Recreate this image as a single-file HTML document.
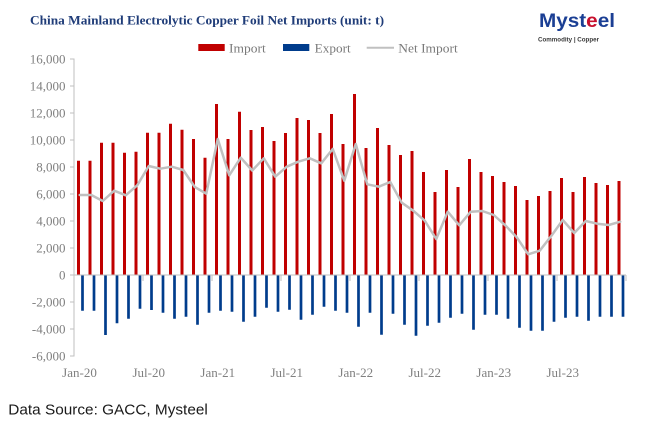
<!DOCTYPE html>
<html>
<head>
<meta charset="utf-8">
<style>
html,body{margin:0;padding:0;background:#fff;}
svg{display:block;}
</style>
</head>
<body>
<svg width="645" height="425" viewBox="0 0 645 425" xmlns="http://www.w3.org/2000/svg">
<rect width="645" height="425" fill="#fff"/>

<!-- Title -->
<text x="30" y="24.5" font-family="Liberation Serif, serif" font-weight="bold" font-size="13" fill="#1f3c78" textLength="354" lengthAdjust="spacingAndGlyphs">China Mainland Electrolytic Copper Foil Net Imports (unit: t)</text>

<!-- Logo -->
<text x="539" y="27" font-family="Liberation Sans, sans-serif" font-weight="bold" font-size="19" fill="#1b3f94" textLength="76" lengthAdjust="spacingAndGlyphs">Myst<tspan fill="#c8102e">e</tspan>el</text>
<text x="538" y="41.5" font-family="Liberation Sans, sans-serif" font-weight="bold" font-size="6.5" fill="#3a3a3a" textLength="61" lengthAdjust="spacingAndGlyphs">Commodity | Copper</text>

<!-- Legend -->
<rect x="198.3" y="44" width="26.4" height="7" fill="#c00000"/>
<text x="229" y="52.3" font-family="Liberation Serif, serif" font-size="13" fill="#7a7a7a" textLength="36.7" lengthAdjust="spacingAndGlyphs">Import</text>
<rect x="283" y="44" width="26.3" height="7" fill="#003c8c"/>
<text x="314.7" y="52.3" font-family="Liberation Serif, serif" font-size="13" fill="#7a7a7a" textLength="36" lengthAdjust="spacingAndGlyphs">Export</text>
<line x1="366.7" y1="47.7" x2="394" y2="47.7" stroke="#c0c0c0" stroke-width="2"/>
<text x="398.3" y="52.3" font-family="Liberation Serif, serif" font-size="13" fill="#7a7a7a" textLength="59.4" lengthAdjust="spacingAndGlyphs">Net Import</text>

<!-- Y axis labels -->
<g font-family="Liberation Serif, serif" font-size="13" fill="#808080" text-anchor="end">
<text x="65.5" y="63.5">16,000</text>
<text x="65.5" y="90.5">14,000</text>
<text x="65.5" y="117.5">12,000</text>
<text x="65.5" y="144.5">10,000</text>
<text x="65.5" y="171.5">8,000</text>
<text x="65.5" y="198.5">6,000</text>
<text x="65.5" y="225.5">4,000</text>
<text x="65.5" y="252.5">2,000</text>
<text x="65.5" y="279.5">0</text>
<text x="65.5" y="306.5">-2,000</text>
<text x="65.5" y="333.5">-4,000</text>
<text x="65.5" y="360.5">-6,000</text>
</g>

<!-- Import bars -->
<path fill="none" stroke="#c00000" stroke-width="3" d="
M78.5 275V160.7M90 275V160.7M101.5 275V142.7M113 275V142.7M124.5 275V152.7M136 275V151.7
M147.5 275V132.7M159 275V132.7M170.5 275V123.7M182 275V129.7M193.5 275V139M205 275V157.7
M216.5 275V104M228 275V139M239.5 275V111.7M251 275V130M262.5 275V127M274 275V141
M285.5 275V133M297 275V118M308.5 275V120M320 275V133M331.5 275V114M343 275V144
M354.5 275V94M366 275V148M377.5 275V128M389 275V145M400.5 275V155M412 275V151
M423.5 275V172M435 275V192M446.5 275V170M458 275V187M469.5 275V159M481 275V172
M492.5 275V176M504 275V182M515.5 275V186M527 275V200M538.5 275V196M550 275V191
M561.5 275V178M573 275V192M584.5 275V177M596 275V183M607.5 275V185M619 275V181"/>

<!-- Export bars -->
<path fill="none" stroke="#003c8c" stroke-width="2.7" d="
M82.5 275V310.7M94 275V310.7M105.5 275V335M117 275V323.3M128.5 275V318.7M140 275V308.7
M151.5 275V310M163 275V312.7M174.5 275V318.7M186 275V316.7M197.5 275V324.7M209 275V312.7
M220.5 275V310.7M232 275V311.7M243.5 275V321.7M255 275V316.7M266.5 275V307.7M278 275V311.7
M289.5 275V309.7M301 275V319.7M312.5 275V314.7M324 275V306.7M335.5 275V310.7M347 275V312.7
M358.5 275V326.7M370 275V312.7M381.5 275V334.7M393 275V313.7M404.5 275V324.7M416 275V335.7
M427.5 275V325.7M439 275V322.7M450.5 275V317.7M462 275V313.7M473.5 275V329.7M485 275V314.7
M496.5 275V314.7M508 275V318.7M519.5 275V327.7M531 275V330.7M542.5 275V330.7M554 275V321.7
M565.5 275V317.7M577 275V316.7M588.5 275V320.7M600 275V316.7M611.5 275V316.7M623 275V316.7"/>

<!-- Axes -->
<g stroke="#bfbfbf" stroke-width="1" fill="none">
<line x1="74" y1="58.5" x2="74" y2="356.5"/>
<line x1="74" y1="275" x2="626" y2="275"/>
<path d="M70 59H74M70 86H74M70 113H74M70 140H74M70 167H74M70 194H74M70 221H74M70 248H74M70 275H74M70 302H74M70 329H74M70 356H74"/>
<path d="M143 275V281M212 275V281M281 275V281M350 275V281M419 275V281M488 275V281M557 275V281M626 275V281"/>
</g>

<!-- Net import line -->
<polyline fill="none" stroke="#c0c0c0" stroke-width="2.5" stroke-linejoin="round" stroke-linecap="round" points="
79.75,195 91.25,195 102.75,201 114.25,190.7 125.75,195.3 137.25,185.3 148.75,166 160.25,168.7 171.75,166.7 183.25,170
194.75,187 206.25,193.7 217.75,139 229.25,175.3 240.75,157.7 252.25,170.5 263.75,158.3 275.25,176.7 286.75,166.7 298.25,161.7
309.75,158.3 321.25,163.3 332.75,149 344.25,180.7 355.75,144 367.25,184.3 378.75,186.7 390.25,182 401.75,202.7 413.25,210.7
424.75,220.7 436.25,239 447.75,211.7 459.25,225.3 470.75,211.7 482.25,211 493.75,215 505.25,225.3 516.75,237.3 528.25,254.3
539.75,250.7 551.25,236 562.75,220 574.25,233 585.75,221 597.25,223.7 608.75,225 620.25,221.7"/>

<!-- X axis labels -->
<g font-family="Liberation Serif, serif" font-size="13" fill="#808080" text-anchor="middle">
<text x="79.5" y="377">Jan-20</text>
<text x="148.75" y="377">Jul-20</text>
<text x="217.75" y="377">Jan-21</text>
<text x="286.75" y="377">Jul-21</text>
<text x="355.75" y="377">Jan-22</text>
<text x="424.75" y="377">Jul-22</text>
<text x="493.75" y="377">Jan-23</text>
<text x="562.75" y="377">Jul-23</text>
</g>

<!-- Data source -->
<text x="8.3" y="414.3" font-family="Liberation Sans, sans-serif" font-size="15" fill="#1a1a1a" textLength="199.5" lengthAdjust="spacingAndGlyphs">Data Source: GACC, Mysteel</text>
</svg>
</body>
</html>
